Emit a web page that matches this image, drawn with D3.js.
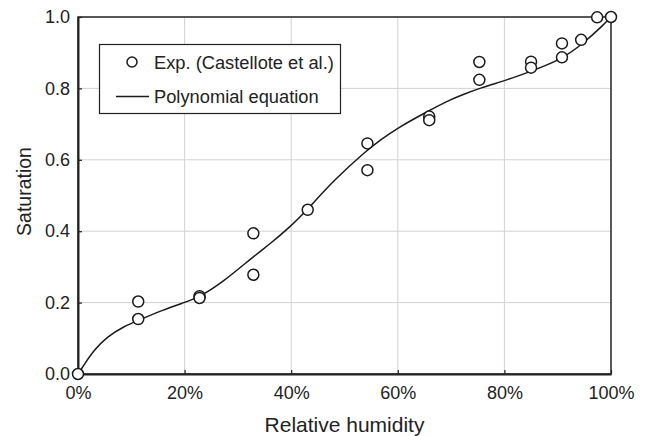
<!DOCTYPE html>
<html>
<head>
<meta charset="utf-8">
<script src="https://cdn.jsdelivr.net/npm/d3@7"></script>
<style>
  body { margin: 0; background: #fff; }
  svg text { font-family: "Liberation Sans", Arial, sans-serif; fill: #222; }
</style>
</head>
<body>
<svg id="chart" width="651" height="436"></svg>
<script>
// Experimental points (Castellote et al.)
const expRH  = [0, 11.3, 11.3, 22.8, 22.8, 32.9, 32.9, 43.1, 54.3, 54.3, 65.9, 65.9, 75.3, 75.3, 85.0, 85.0, 90.8, 90.8, 94.4, 97.4, 100];
const expSat = [0, 0.203, 0.154, 0.218, 0.213, 0.394, 0.278, 0.460, 0.646, 0.571, 0.721, 0.711, 0.874, 0.824, 0.875, 0.858, 0.926, 0.887, 0.936, 0.999, 1.0];

// Polynomial equation curve
const fitRH  = [0, 1.1, 3, 5.5, 8.6, 11.1, 16, 20.1, 22.7, 27, 32.9, 36, 39.8, 43, 48, 54.2, 56.7, 59.8, 66, 69.8, 72.3, 75.4, 81, 84.8, 90.7, 94.8, 98.6, 100];
const fitSat = [0, 0.025, 0.067, 0.105, 0.133, 0.149, 0.18, 0.201, 0.215, 0.255, 0.329, 0.364, 0.412, 0.46, 0.543, 0.627, 0.655, 0.688, 0.739, 0.768, 0.783, 0.801, 0.826, 0.847, 0.881, 0.926, 0.978, 1.0];

const xTicks = [0, 20, 40, 60, 80, 100];
const yTicks = [0, 0.2, 0.4, 0.6, 0.8, 1.0];
const legendLabels = ["Exp. (Castellote et al.)", "Polynomial equation"];

const svg = d3.select("#chart");
const margin = {left: 78, top: 17, right: 40, bottom: 62};
const width = +svg.attr("width"), height = +svg.attr("height");

const x = d3.scaleLinear().domain([0, 100]).range([margin.left, width - margin.right]);
const y = d3.scaleLinear().domain([0, 1]).range([height - margin.bottom, margin.top]);

// grid
svg.append("g").selectAll("line.gx")
  .data(xTicks.slice(1, -1)).join("line")
  .attr("x1", d => x(d)).attr("x2", d => x(d))
  .attr("y1", y(0)).attr("y2", y(1))
  .attr("stroke", "#d2d2d2").attr("stroke-width", 1);
svg.append("g").selectAll("line.gy")
  .data(yTicks.slice(1, -1)).join("line")
  .attr("x1", x(0)).attr("x2", x(100))
  .attr("y1", d => y(d)).attr("y2", d => y(d))
  .attr("stroke", "#d2d2d2").attr("stroke-width", 1);

// frame
svg.append("rect")
  .attr("x", x(0)).attr("y", y(1))
  .attr("width", x(100) - x(0)).attr("height", y(0) - y(1))
  .attr("fill", "none").attr("stroke", "#222").attr("stroke-width", 1.5);

// axes (inward ticks)
const xAxis = svg.append("g")
  .attr("transform", `translate(0,${y(0)})`)
  .call(d3.axisBottom(x).tickValues(xTicks).tickSizeInner(-4).tickSizeOuter(0)
    .tickPadding(12).tickFormat(d => d + "%"));
const yAxis = svg.append("g")
  .attr("transform", `translate(${x(0)},0)`)
  .call(d3.axisLeft(y).tickValues(yTicks).tickSizeInner(-4).tickSizeOuter(0)
    .tickPadding(8).tickFormat(d3.format(".1f")));
[xAxis, yAxis].forEach(a => {
  a.select(".domain").attr("stroke", "#222").attr("stroke-width", 2);
  a.selectAll(".tick line").attr("stroke", "#222").attr("stroke-width", 1.2);
  a.selectAll(".tick text").attr("font-size", 18).attr("fill", "#222")
    .style("font-family", "Liberation Sans, Arial, sans-serif");
});
yAxis.selectAll(".tick text").attr("x", -8);

// axis titles
svg.append("text")
  .attr("x", (x(0) + x(100)) / 2).attr("y", 432)
  .attr("text-anchor", "middle").attr("font-size", 21)
  .text("Relative humidity");
svg.append("text")
  .attr("transform", `translate(31,${(y(0) + y(1)) / 2 - 4}) rotate(-90)`)
  .attr("text-anchor", "middle").attr("font-size", 19.5)
  .text("Saturation");

// curve
const fitData = fitRH.map((d, i) => [d, fitSat[i]]);
svg.append("path")
  .datum(fitData)
  .attr("d", d3.line().x(d => x(d[0])).y(d => y(d[1])).curve(d3.curveBasis))
  .attr("fill", "none").attr("stroke", "#1a1a1a").attr("stroke-width", 1.5);

// points
const expData = expRH.map((d, i) => [d, expSat[i]]);
svg.append("g").selectAll("circle")
  .data(expData).join("circle")
  .attr("cx", d => x(d[0])).attr("cy", d => y(d[1]))
  .attr("r", 5.5)
  .attr("fill", "#fff").attr("stroke", "#1a1a1a").attr("stroke-width", 1.5);

// legend
const lg = svg.append("g");
lg.append("rect")
  .attr("x", 99.5).attr("y", 44.5).attr("width", 241).attr("height", 69)
  .attr("fill", "#fff").attr("stroke", "#222").attr("stroke-width", 1.2);
lg.append("circle")
  .attr("cx", 132).attr("cy", 62).attr("r", 5)
  .attr("fill", "#fff").attr("stroke", "#1a1a1a").attr("stroke-width", 1.5);
lg.append("line")
  .attr("x1", 116).attr("x2", 149).attr("y1", 96.5).attr("y2", 96.5)
  .attr("stroke", "#1a1a1a").attr("stroke-width", 1.5);
lg.selectAll("text")
  .data(legendLabels).join("text")
  .attr("x", 154).attr("y", (d, i) => 68.5 + i * 34)
  .attr("font-size", 18.3)
  .text(d => d);
</script>
</body>
</html>
